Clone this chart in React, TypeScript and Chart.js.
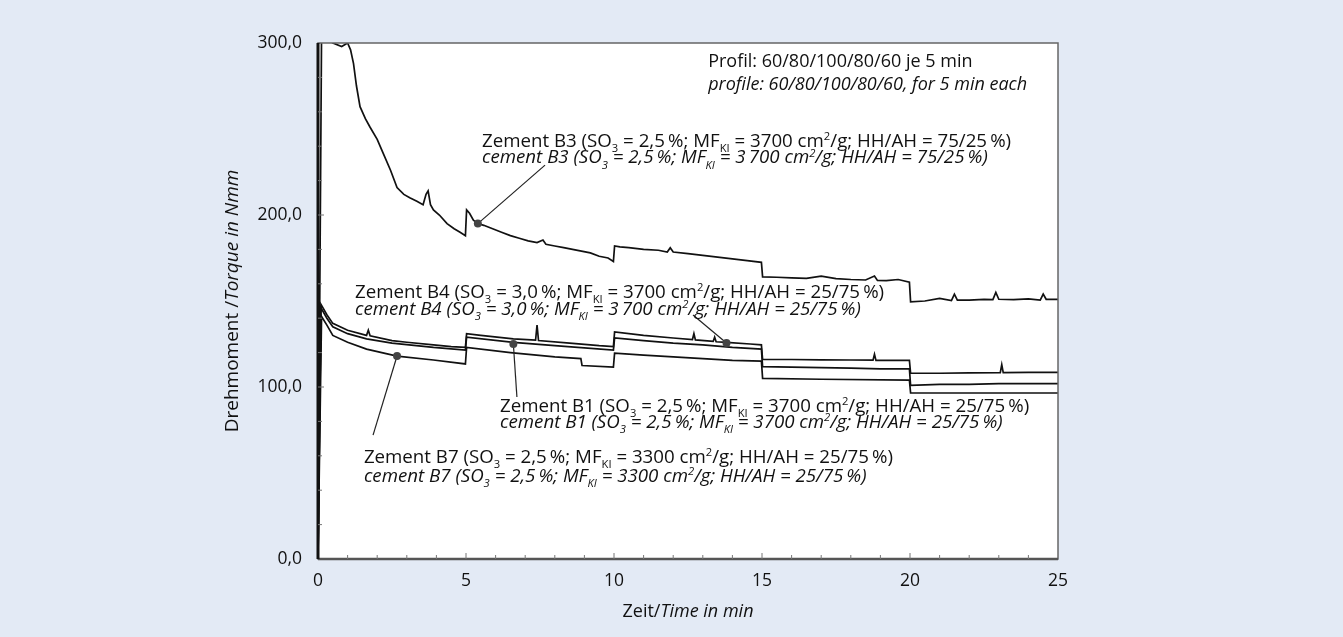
import React, { useEffect, useRef } from "react";
import { Chart, registerables } from "chart.js";

Chart.register(...registerables);

// ---------- data (time in min, torque in Nmm) ----------
const b3Time = [0, 0.12, 0.5, 0.8, 1.0, 1.1, 1.2, 1.3, 1.42, 1.6, 1.76, 2.0, 2.2, 2.45, 2.67, 2.9, 3.1, 3.34, 3.55, 3.65, 3.72, 3.8, 3.9, 4.1, 4.36, 4.6, 4.8, 4.98, 5.02, 5.12, 5.25, 5.4, 5.6, 5.9, 6.2, 6.5, 6.8, 7.1, 7.4, 7.6, 7.7, 8.0, 8.3, 8.6, 8.9, 9.2, 9.5, 9.8, 9.98, 10.02, 10.2, 10.5, 11.0, 11.5, 11.8, 11.9, 12.0, 12.5, 13.0, 13.5, 14.0, 14.5, 14.98, 15.02, 15.5, 16.0, 16.5, 17.0, 17.5, 18.0, 18.5, 18.8, 18.9, 19.2, 19.6, 19.98, 20.02, 20.5, 21.0, 21.4, 21.5, 21.6, 22.0, 22.5, 22.8, 22.9, 23.0, 23.5, 24.0, 24.4, 24.5, 24.6, 25.0];
const b3Vals = [0, 305, 300, 298, 300, 296, 288, 275, 263, 256, 251, 244, 236, 226, 216, 212, 210, 208, 206, 212, 214, 206, 203, 200, 195, 192, 190, 188, 203, 201, 197, 195, 194, 192, 190, 188, 186.5, 185, 184, 185.5, 183, 182, 181, 180, 179, 178, 176, 175, 173, 182, 181.5, 181, 180, 179.5, 178.5, 181, 178.5, 177.5, 176.5, 175.5, 174.5, 173.5, 172.5, 164, 163.8, 163.5, 163.2, 164.5, 163, 162.5, 162.2, 164.5, 162, 161.8, 162.5, 161, 149.5, 150, 151.5, 150.2, 154, 150.5, 150.5, 151, 150.8, 155, 151, 150.8, 151.2, 150.5, 154, 151, 151];

const b4Time = [0, 0.1, 0.3, 0.5, 1.0, 1.64, 1.7, 1.76, 2.5, 3.0, 3.9, 4.5, 4.98, 5.02, 5.5, 6.6, 7.35, 7.4, 7.45, 8.5, 9.5, 9.98, 10.02, 11.0, 12.0, 12.65, 12.7, 12.75, 13.35, 13.4, 13.45, 13.8, 14.6, 14.98, 15.02, 16.0, 17.0, 18.0, 18.75, 18.8, 18.85, 19.98, 20.02, 21.0, 22.0, 23.05, 23.1, 23.15, 24.0, 25.0];
const b4Vals = [0, 148, 142, 137, 133, 130, 133, 129.8, 127, 126, 124.5, 123.5, 123, 131, 130, 128, 127.2, 136, 127, 125.5, 124, 123.5, 132, 130, 128.5, 127.6, 131, 127.4, 126.5, 129, 126.3, 126, 125, 124.5, 116, 116, 115.8, 115.7, 115.6, 119, 115.5, 115.5, 108, 108, 108.2, 108.3, 113, 108.4, 108.5, 108.5];

const b1Time = [0, 0.1, 0.3, 0.5, 1.0, 1.64, 2.5, 3.9, 4.98, 5.02, 6.6, 8.0, 9.98, 10.02, 11.0, 12.0, 13.0, 14.0, 14.98, 15.02, 16.0, 17.0, 18.0, 19.0, 19.98, 20.02, 21.0, 22.0, 23.0, 24.0, 25.0];
const b1Vals = [0, 146, 140, 135, 131, 128, 125.5, 123, 121.5, 129, 126, 124, 121.5, 128.5, 127, 125.5, 124.5, 123, 122, 111.8, 111.5, 111.3, 111, 110.5, 110.5, 101, 101.5, 101.5, 102, 102, 102];

const b7Time = [0, 0.12, 0.3, 0.5, 1.0, 1.64, 2.67, 3.9, 4.98, 5.02, 6.5, 8.0, 8.88, 8.92, 9.98, 10.02, 11.0, 12.0, 13.0, 14.0, 14.98, 15.02, 17.0, 19.98, 20.02, 22.0, 25.0];
const b7Vals = [0, 141, 136, 130, 126, 122, 118, 115.7, 113.4, 123, 120, 117.5, 116.5, 112.5, 111.6, 119.7, 118.5, 117.5, 116.5, 115.5, 115, 105, 104.5, 104, 96.5, 96.5, 96.5];

const xTickLabels = [0, 5, 10, 15, 20, 25];
const yTickLabels = ["0,0", "100,0", "200,0", "300,0"];

type Seg = [string, string];
const b3Segs: Seg[] = [["Zement B3 (SO", ""], ["3", "sub"], [" = 2,5\u2009%; MF", ""], ["KI", "sub"], [" = 3700 cm", ""], ["2", "sup"], ["/g; HH/AH = 75/25\u2009%)", ""]];
const b3SegsEn: Seg[] = [["cement B3 (SO", ""], ["3", "sub"], [" = 2,5\u2009%; MF", ""], ["KI", "sub"], [" = 3\u2009700 cm", ""], ["2", "sup"], ["/g; HH/AH = 75/25\u2009%)", ""]];
const b4Segs: Seg[] = [["Zement B4 (SO", ""], ["3", "sub"], [" = 3,0\u2009%; MF", ""], ["KI", "sub"], [" = 3700 cm", ""], ["2", "sup"], ["/g; HH/AH = 25/75\u2009%)", ""]];
const b4SegsEn: Seg[] = [["cement B4 (SO", ""], ["3", "sub"], [" = 3,0\u2009%; MF", ""], ["KI", "sub"], [" = 3\u2009700 cm", ""], ["2", "sup"], ["/g; HH/AH = 25/75\u2009%)", ""]];
const b1Segs: Seg[] = [["Zement B1 (SO", ""], ["3", "sub"], [" = 2,5\u2009%; MF", ""], ["KI", "sub"], [" = 3700 cm", ""], ["2", "sup"], ["/g; HH/AH = 25/75\u2009%)", ""]];
const b1SegsEn: Seg[] = [["cement B1 (SO", ""], ["3", "sub"], [" = 2,5\u2009%; MF", ""], ["KI", "sub"], [" = 3700 cm", ""], ["2", "sup"], ["/g; HH/AH = 25/75\u2009%)", ""]];
const b7Segs: Seg[] = [["Zement B7 (SO", ""], ["3", "sub"], [" = 2,5\u2009%; MF", ""], ["KI", "sub"], [" = 3300 cm", ""], ["2", "sup"], ["/g; HH/AH = 25/75\u2009%)", ""]];
const b7SegsEn: Seg[] = [["cement B7 (SO", ""], ["3", "sub"], [" = 2,5\u2009%; MF", ""], ["KI", "sub"], [" = 3300 cm", ""], ["2", "sup"], ["/g; HH/AH = 25/75\u2009%)", ""]];

const labels = [
  { t: 5.54, v: 239.5, v2: 230, de: b3Segs, en: b3SegsEn },
  { t: 1.25, v: 151.7, v2: 141.9, de: b4Segs, en: b4SegsEn },
  { t: 6.15, v: 85.5, v2: 76.2, de: b1Segs, en: b1SegsEn },
  { t: 1.55, v: 55.8, v2: 44.8, de: b7Segs, en: b7SegsEn },
];
const leaders = [
  { mt: 5.4, mv: 195, et: 7.67, ev: 229 },
  { mt: 13.8, mv: 125.6, et: 12.67, ev: 141.9 },
  { mt: 6.6, mv: 125, et: 6.72, ev: 94.2 },
  { mt: 2.67, mv: 118, et: 1.86, ev: 72 },
];
const profileDe = "Profil: 60/80/100/80/60 je 5 min";
const profileEn = "profile: 60/80/100/80/60, for 5 min each";

const FONT = '"Open Sans", "Noto Sans", sans-serif';
const FS = 18;
const ANN_FS = 18.7;
const TICK_FS = 17.5;
const TITLE_FS = 19;

function pts(t: number[], v: number[]) {
  return t.map((x, i) => ({ x, y: v[i] }));
}

function drawRich(ctx: CanvasRenderingContext2D, x: number, y: number, segs: Seg[], italic: boolean) {
  let cx = x;
  for (const [text, kind] of segs) {
    const s = kind ? ANN_FS * 0.6 : ANN_FS;
    ctx.font = `${italic ? "italic " : ""}${s}px ${FONT}`;
    const dy = kind === "sub" ? ANN_FS * 0.28 : kind === "sup" ? -ANN_FS * 0.36 : 0;
    ctx.fillText(text, cx, y + dy);
    cx += ctx.measureText(text).width;
  }
}

const decor = {
  id: "decor",
  beforeDraw(chart: any) {
    const { ctx, chartArea: a, width, height } = chart;
    ctx.save();
    ctx.fillStyle = "#e3eaf5";
    ctx.fillRect(0, 0, width, height);
    ctx.fillStyle = "#ffffff";
    ctx.fillRect(a.left, a.top, a.right - a.left, a.bottom - a.top);
    ctx.restore();
  },
  afterDraw(chart: any) {
    const { ctx, chartArea: a, scales } = chart;
    const xs = scales.x, ys = scales.y;
    ctx.save();
    ctx.strokeStyle = "#666";
    ctx.lineWidth = 1.5;
    ctx.strokeRect(a.left, a.top, a.right - a.left, a.bottom - a.top);
    ctx.strokeStyle = "#555";
    ctx.lineWidth = 2.5;
    ctx.beginPath();
    ctx.moveTo(a.left, a.bottom);
    ctx.lineTo(a.right, a.bottom);
    ctx.stroke();
    ctx.strokeStyle = "#111";
    ctx.lineWidth = 3;
    ctx.beginPath();
    ctx.moveTo(a.left, a.top);
    ctx.lineTo(a.left, a.bottom);
    ctx.stroke();
    ctx.strokeStyle = "#777";
    ctx.lineWidth = 1;
    for (let t = 1; t < 25; t++) {
      const px = xs.getPixelForValue(t);
      const len = t % 5 === 0 ? 6 : 4;
      ctx.beginPath();
      ctx.moveTo(px, a.bottom);
      ctx.lineTo(px, a.bottom - len);
      ctx.stroke();
    }
    for (let v = 20; v < 300; v += 20) {
      const py = ys.getPixelForValue(v);
      const len = v % 100 === 0 ? 6 : 4;
      ctx.beginPath();
      ctx.moveTo(a.left, py);
      ctx.lineTo(a.left + len, py);
      ctx.stroke();
    }
    ctx.strokeStyle = "#222";
    ctx.lineWidth = 1.2;
    for (const l of leaders) {
      const mx = xs.getPixelForValue(l.mt), my = ys.getPixelForValue(l.mv);
      const ex = xs.getPixelForValue(l.et), ey = ys.getPixelForValue(l.ev);
      ctx.beginPath();
      ctx.moveTo(mx, my);
      ctx.lineTo(ex, ey);
      ctx.stroke();
      ctx.fillStyle = "#444";
      ctx.beginPath();
      ctx.arc(mx, my, 4, 0, Math.PI * 2);
      ctx.fill();
    }
    ctx.fillStyle = "#111";
    ctx.textBaseline = "alphabetic";
    ctx.textAlign = "left";
    for (const lb of labels) {
      const x = xs.getPixelForValue(lb.t);
      drawRich(ctx, x, ys.getPixelForValue(lb.v), lb.de, false);
      drawRich(ctx, x, ys.getPixelForValue(lb.v2), lb.en, true);
    }
    const px = xs.getPixelForValue(13.18);
    ctx.font = `${FS}px ${FONT}`;
    ctx.fillText(profileDe, px, ys.getPixelForValue(286));
    ctx.font = `italic ${FS}px ${FONT}`;
    ctx.fillText(profileEn, px, ys.getPixelForValue(272.7));
    // x axis title
    const xt1 = "Zeit/", xt2 = "Time in min";
    ctx.font = `${FS}px ${FONT}`;
    const w1 = ctx.measureText(xt1).width;
    ctx.font = `italic ${FS}px ${FONT}`;
    const w2 = ctx.measureText(xt2).width;
    const cx = (a.left + a.right) / 2;
    ctx.textBaseline = "middle";
    ctx.font = `${FS}px ${FONT}`;
    ctx.fillText(xt1, cx - (w1 + w2) / 2, a.bottom + 53);
    ctx.font = `italic ${FS}px ${FONT}`;
    ctx.fillText(xt2, cx - (w1 + w2) / 2 + w1, a.bottom + 53);
    // y axis title
    const yt1 = "Drehmoment /", yt2 = "Torque in Nmm";
    ctx.font = `${TITLE_FS}px ${FONT}`;
    const v1 = ctx.measureText(yt1).width;
    ctx.font = `italic ${TITLE_FS}px ${FONT}`;
    const v2 = ctx.measureText(yt2).width;
    ctx.translate(a.left - 85, (a.top + a.bottom) / 2);
    ctx.rotate(-Math.PI / 2);
    ctx.textBaseline = "middle";
    ctx.font = `${TITLE_FS}px ${FONT}`;
    ctx.fillText(yt1, -(v1 + v2) / 2, 0);
    ctx.font = `italic ${TITLE_FS}px ${FONT}`;
    ctx.fillText(yt2, -(v1 + v2) / 2 + v1, 0);
    ctx.restore();
  },
};

export default function App() {
  const ref = useRef<HTMLCanvasElement>(null);
  useEffect(() => {
    document.body.style.margin = "0";
    const line = (d: any) => ({
      data: d,
      borderColor: "#111",
      borderWidth: 1.7,
      pointRadius: 0,
      tension: 0,
      fill: false,
    });
    const chart = new Chart(ref.current!, {
      type: "line",
      data: {
        datasets: [
          { label: "B3", ...line(pts(b3Time, b3Vals)) },
          { label: "B4", ...line(pts(b4Time, b4Vals)) },
          { label: "B1", ...line(pts(b1Time, b1Vals)) },
          { label: "B7", ...line(pts(b7Time, b7Vals)) },
        ],
      },
      options: {
        animation: false,
        responsive: false,
        layout: { padding: { top: 43, right: 285, left: 0, bottom: 0 } },
        plugins: { legend: { display: false }, tooltip: { enabled: false } },
        scales: {
          x: {
            type: "linear",
            min: 0,
            max: 25,
            grid: { display: false, drawTicks: false },
            border: { display: false },
            afterFit: (s: any) => { s.height = 78; },
            afterBuildTicks: (s: any) => { s.ticks = xTickLabels.map((v) => ({ value: v })); },
            ticks: {
              padding: 12,
              color: "#111",
              font: { family: FONT, size: TICK_FS },
              maxRotation: 0,
              callback: (v: any) => String(v),
            },
          },
          y: {
            type: "linear",
            min: 0,
            max: 300,
            grid: { display: false, drawTicks: false },
            border: { display: false },
            afterFit: (s: any) => { s.width = 318; },
            afterBuildTicks: (s: any) => { s.ticks = yTickLabels.map((_, i) => ({ value: i * 100 })); },
            ticks: {
              padding: 16,
              color: "#111",
              font: { family: FONT, size: TICK_FS },
              callback: (v: any) => yTickLabels[Math.round(Number(v) / 100)],
            },
          },
        },
      },
      plugins: [decor],
    });
    return () => chart.destroy();
  }, []);
  return (
    <div style={{ width: 1343, height: 637 }}>
      <canvas ref={ref} width={1343} height={637} style={{ display: "block" }} />
    </div>
  );
}
